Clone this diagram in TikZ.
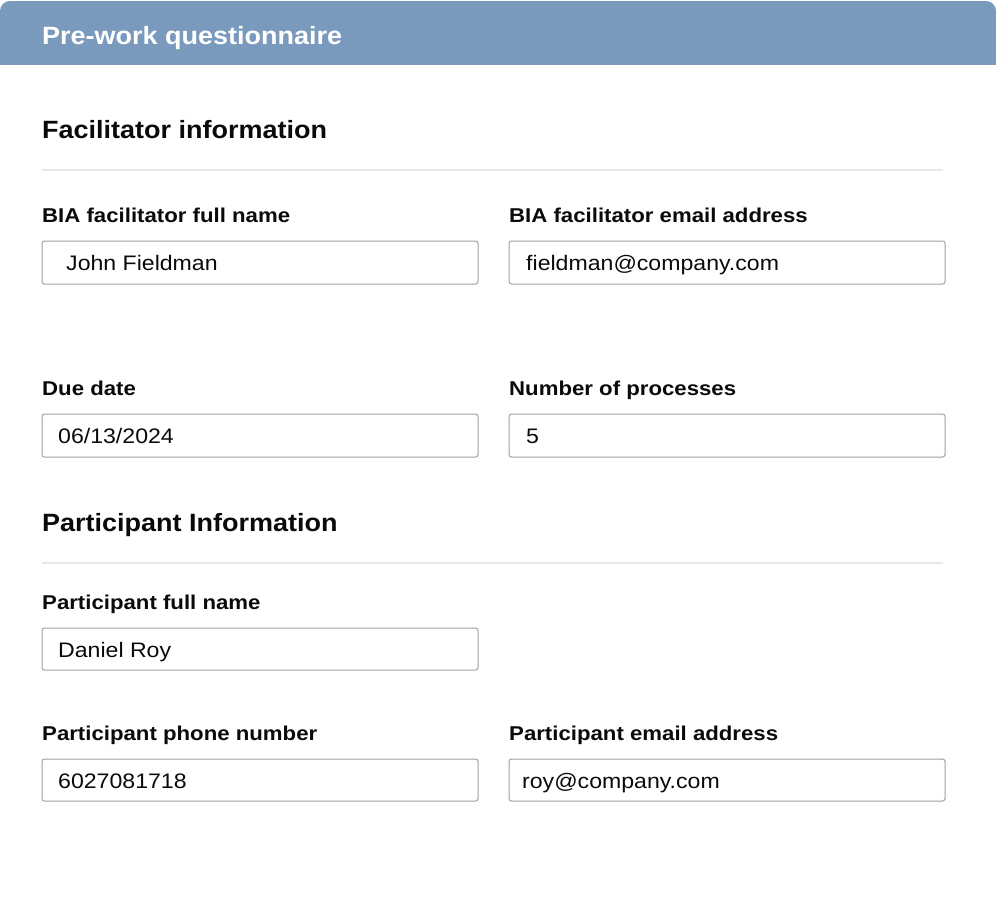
\documentclass[tikz,border=0pt]{standalone}
\usepackage{fontspec}
\setmainfont{Liberation Sans}
\newfontfamily\hfont[FakeStretch=1.08]{Liberation Sans}
\newfontfamily\lfont[FakeStretch=1.11]{Liberation Sans}
\newfontfamily\vfont[FakeStretch=1.10]{Liberation Sans}
\definecolor{hdr}{HTML}{7A9ABD}
\definecolor{rule}{HTML}{E8E8E8}
\definecolor{boxline}{HTML}{A0A0A0}
\definecolor{ink}{HTML}{0A0A0A}
\tikzset{
  x=1pt,y=-1pt,
  field/.style={draw=boxline,line width=1pt,rounded corners=2.5pt,fill=white},
  title/.style={anchor=base west,inner sep=0pt,text=white,font=\hfont\fontsize{25}{29}\selectfont\bfseries},
  section/.style={anchor=base west,inner sep=0pt,text=ink,font=\hfont\fontsize{25}{29}\selectfont\bfseries},
  lbl/.style={anchor=base west,inner sep=0pt,text=ink,font=\lfont\fontsize{20}{24}\selectfont\bfseries},
  val/.style={anchor=base west,inner sep=0pt,text=ink,font=\vfont\fontsize{21}{25}\selectfont},
  divider/.style={draw=rule,line width=2pt}
}
\begin{document}
\begin{tikzpicture}
\useasboundingbox[fill=white] (0,0) rectangle (996,910);
% header
\fill[hdr,rounded corners=10pt] (0,1) rectangle (996,40);
\fill[hdr] (0,20) rectangle (996,65);
\node[title] (head) at (42,44) {Pre-work questionnaire};

% Facilitator information
\node[section] (sec1) at (42,138) {Facilitator information};
\coordinate (d1a) at (42,170);
\coordinate (d1b) at (943,170);
\draw[divider] (d1a) -- (d1b);

\node[lbl] (l1) at (42,222) {BIA facilitator full name};
\node[lbl] (l2) at (509,222) {BIA facilitator email address};
\draw[field] (42,241) rectangle (478,284);
\draw[field] (509,241) rectangle (945,284);
\node[val] (v1) at (66,270) {John Fieldman};
\node[val] (v2) at (526,270) {fieldman@company.com};

\node[lbl] (l3) at (42,395) {Due date};
\node[lbl] (l4) at (509,395) {Number of processes};
\draw[field] (42,414) rectangle (478,457);
\draw[field] (509,414) rectangle (945,457);
\node[val] (v3) at (58,443) {06/13/2024};
\node[val] (v4) at (526,443) {5};

% Participant information
\node[section] (sec2) at (42,531) {Participant Information};
\coordinate (d2a) at (42,563);
\coordinate (d2b) at (943,563);
\draw[divider] (d2a) -- (d2b);

\node[lbl] (l5) at (42,609) {Participant full name};
\draw[field] (42,628) rectangle (478,670);
\node[val] (v5) at (58,657) {Daniel Roy};

\node[lbl] (l6) at (42,740) {Participant phone number};
\node[lbl] (l7) at (509,740) {Participant email address};
\draw[field] (42,759) rectangle (478,801);
\draw[field] (509,759) rectangle (945,801);
\node[val] (v6) at (58,788) {6027081718};
\node[val] (v7) at (522,788) {roy@company.com};
\end{tikzpicture}
\end{document}
